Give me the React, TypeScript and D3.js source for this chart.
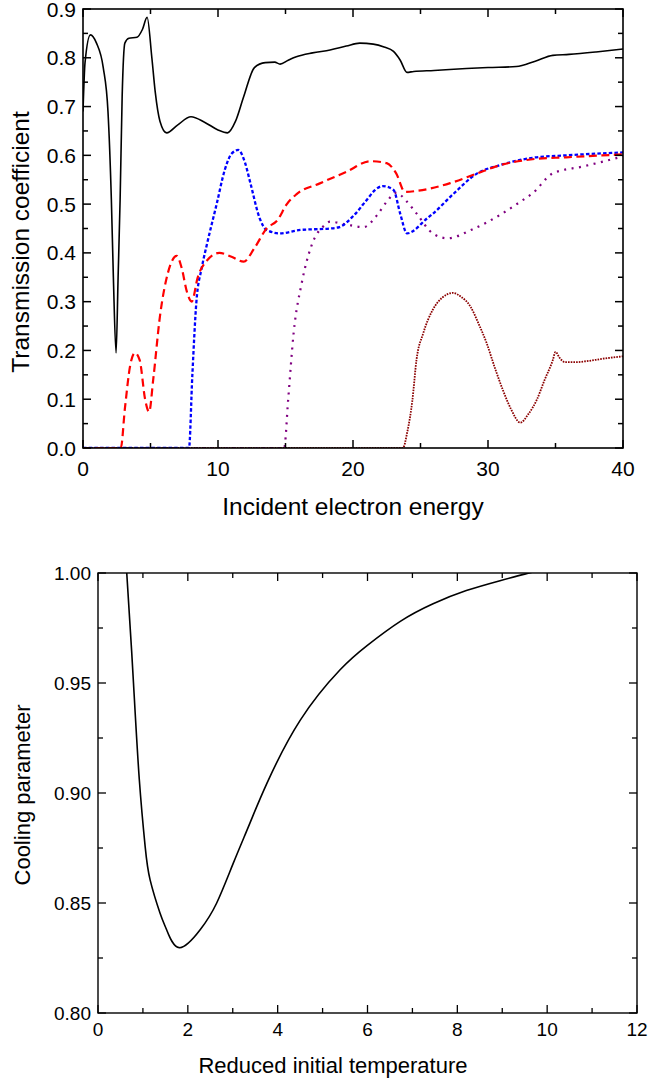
import React from "react";
import * as d3 from "d3";

// ---- top panel: transmission coefficient vs incident electron energy
const solidE = [0, 0.15, 0.55, 1.0, 1.5, 1.85, 2.1, 2.25, 2.45, 2.6, 2.75, 2.9, 3.1, 3.4, 4.0, 4.4, 4.75, 5.1, 5.35, 5.7, 6.2, 7.0, 8.0, 9.0, 10.0, 10.7, 11.3, 11.9, 12.7, 13.5, 14.2, 14.6, 15.2, 15.8, 17.0, 18.3, 19.5, 20.5, 21.5, 22.3, 23.0, 23.5, 24.0, 24.5, 26.0, 28.4, 30.0, 32.1, 33.5, 34.8, 36.0, 38.0, 40];
const solidT = [0.69, 0.79, 0.847, 0.83, 0.78, 0.69, 0.51, 0.35, 0.195, 0.35, 0.51, 0.72, 0.83, 0.84, 0.842, 0.858, 0.883, 0.8, 0.73, 0.67, 0.646, 0.662, 0.679, 0.668, 0.652, 0.646, 0.67, 0.72, 0.78, 0.79, 0.791, 0.787, 0.795, 0.802, 0.81, 0.816, 0.824, 0.83, 0.828, 0.822, 0.813, 0.795, 0.77, 0.772, 0.774, 0.778, 0.78, 0.782, 0.793, 0.805, 0.807, 0.812, 0.818];

const redE = [0, 2.8, 3.1, 3.5, 3.85, 4.2, 4.6, 4.9, 5.2, 5.7, 6.3, 6.95, 7.3, 7.7, 8.05, 8.5, 9.2, 10.1, 11.0, 11.9, 12.7, 13.6, 14.4, 15.1, 15.8, 17.5, 19.5, 21.3, 22.5, 23.2, 23.85, 24.7, 27.2, 29.2, 30.9, 33.3, 35.8, 40];
const redT = [0, 0, 0.08, 0.17, 0.195, 0.18, 0.1, 0.074, 0.14, 0.27, 0.36, 0.394, 0.37, 0.32, 0.3, 0.35, 0.385, 0.4, 0.392, 0.382, 0.41, 0.45, 0.467, 0.5, 0.52, 0.542, 0.566, 0.588, 0.584, 0.563, 0.525, 0.527, 0.543, 0.563, 0.58, 0.592, 0.596, 0.602];

const blueE = [0, 7.85, 8.1, 8.4, 8.8, 9.2, 9.9, 10.5, 11.0, 11.5, 12.0, 12.4, 13.1, 13.6, 14.6, 16.1, 18.3, 19.0, 20.0, 21.0, 21.6, 22.2, 23.0, 23.5, 24.0, 25.5, 25.9, 27.4, 29.2, 30.9, 33.3, 35.8, 40];
const blueT = [0, 0, 0.15, 0.3, 0.37, 0.42, 0.5, 0.57, 0.603, 0.611, 0.585, 0.543, 0.47, 0.447, 0.44, 0.447, 0.45, 0.453, 0.475, 0.508, 0.528, 0.537, 0.529, 0.48, 0.44, 0.471, 0.48, 0.52, 0.563, 0.58, 0.595, 0.6, 0.606];

const purpleE = [0, 14.9, 15.2, 15.6, 16.2, 16.9, 17.9, 18.3, 19.5, 20.8, 21.8, 22.5, 23.2, 24.0, 24.7, 25.9, 27.0, 28.9, 30.9, 32.4, 33.3, 34.8, 37.0, 38.5, 40];
const purpleT = [0, 0, 0.1, 0.235, 0.338, 0.413, 0.457, 0.464, 0.458, 0.453, 0.478, 0.505, 0.523, 0.505, 0.481, 0.44, 0.43, 0.449, 0.478, 0.505, 0.522, 0.563, 0.577, 0.587, 0.598];

const maroonE = [0, 23.7, 24.0, 24.4, 24.7, 25.2, 25.9, 26.6, 27.4, 28.0, 28.7, 29.3, 29.9, 30.5, 31.1, 31.7, 32.4, 33.0, 33.6, 34.2, 34.8, 35.0, 35.3, 35.7, 36.5, 37.3, 38.5, 40];
const maroonT = [0, 0, 0.03, 0.098, 0.18, 0.235, 0.283, 0.308, 0.318, 0.31, 0.29, 0.255, 0.215, 0.165, 0.119, 0.08, 0.052, 0.07, 0.098, 0.14, 0.18, 0.197, 0.185, 0.176, 0.176, 0.178, 0.183, 0.188];

const topXTicks = [0, 10, 20, 30, 40];
const topYTicks = [0.0, 0.1, 0.2, 0.3, 0.4, 0.5, 0.6, 0.7, 0.8, 0.9];

// ---- bottom panel: cooling parameter vs reduced initial temperature
const tempX = [0.55, 0.64, 0.79, 0.92, 1.05, 1.16, 1.38, 1.53, 1.81, 2.27, 2.64, 3.01, 3.38, 3.76, 4.5, 5.39, 5.99, 6.73, 7.46, 8.2, 8.95, 9.5, 10.0];
const coolY = [1.018, 1.0, 0.95, 0.906, 0.8756, 0.8605, 0.8455, 0.8377, 0.8297, 0.8377, 0.8499, 0.868, 0.8862, 0.9044, 0.933, 0.956, 0.967, 0.978, 0.986, 0.992, 0.9965, 0.9995, 1.002];

const botXTicks = [0, 2, 4, 6, 8, 10, 12];
const botYTicks = [0.8, 0.85, 0.9, 0.95, 1.0];

const W = 649;
const H = 1082;
const font = "Liberation Sans, Arial, sans-serif";

const App = () => {
  // top panel scales
  const x1 = d3.scaleLinear().domain([0, 40]).range([83, 623]);
  const y1 = d3.scaleLinear().domain([0, 0.9]).range([448, 9]);
  const line1 = d3.line<[number, number]>()
    .x(d => x1(d[0]))
    .y(d => y1(d[1]))
    .curve(d3.curveMonotoneX);

  const series = [
    { e: maroonE, t: maroonT, color: "#8b0000", dash: "1.6,1.1", w: 1.8 },
    { e: purpleE, t: purpleT, color: "#800080", dash: "2,5.5", w: 2.2 },
    { e: blueE, t: blueT, color: "#0000ff", dash: "3.5,2.2", w: 2.3 },
    { e: redE, t: redT, color: "#ff0000", dash: "8,4.5", w: 2.2 },
    { e: solidE, t: solidT, color: "#000000", dash: "none", w: 1.6 },
  ];

  // bottom panel scales
  const x2 = d3.scaleLinear().domain([0, 12]).range([98, 637]);
  const y2 = d3.scaleLinear().domain([0.8, 1.0]).range([1013, 573]);
  const line2 = d3.line<[number, number]>()
    .x(d => x2(d[0]))
    .y(d => y2(d[1]))
    .curve(d3.curveNatural);

  const topMinorX = d3.range(0, 40.01, 5);
  const topMinorY = d3.range(0, 0.901, 0.05);
  const botMinorX = d3.range(0, 12.01, 1);
  const botMinorY = d3.range(0.8, 1.001, 0.025);

  return (
    <svg width={W} height={H} style={{ position: "absolute", left: 0, top: 0, background: "#fff" }}>
      <defs>
        <clipPath id="clipTop">
          <rect x={83} y={9} width={540} height={439} />
        </clipPath>
        <clipPath id="clipBot">
          <rect x={98} y={573} width={539} height={440} />
        </clipPath>
      </defs>

      {/* ---------- top panel ---------- */}
      <g clipPath="url(#clipTop)">
        {series.map((s, i) => (
          <path key={i}
            d={line1(s.e.map((e, j) => [e, s.t[j]] as [number, number])) || ""}
            fill="none" stroke={s.color} strokeWidth={s.w}
            strokeDasharray={s.dash} />
        ))}
      </g>
      <rect x={83} y={9} width={540} height={439} fill="none" stroke="#000" strokeWidth={1.6} />
      {topMinorX.map((v, i) => {
        const len = v % 10 === 0 ? 8 : 5;
        return (
          <g key={"tx" + i}>
            <line x1={x1(v)} x2={x1(v)} y1={448} y2={448 - len} stroke="#000" strokeWidth={1.5} />
            <line x1={x1(v)} x2={x1(v)} y1={9} y2={9 + len} stroke="#000" strokeWidth={1.5} />
          </g>
        );
      })}
      {topMinorY.map((v, i) => {
        const len = i % 2 === 0 ? 8 : 5;
        return (
          <g key={"ty" + i}>
            <line x1={83} x2={83 + len} y1={y1(v)} y2={y1(v)} stroke="#000" strokeWidth={1.5} />
            <line x1={623} x2={623 - len} y1={y1(v)} y2={y1(v)} stroke="#000" strokeWidth={1.5} />
          </g>
        );
      })}
      {topXTicks.map(v => (
        <text key={"txl" + v} x={x1(v)} y={476} textAnchor="middle" fontFamily={font} fontSize={21}>{v}</text>
      ))}
      {topYTicks.map(v => (
        <text key={"tyl" + v} x={76} y={y1(v)} dy="0.36em" textAnchor="end" fontFamily={font} fontSize={21}>{v.toFixed(1)}</text>
      ))}
      <text x={353} y={515} textAnchor="middle" fontFamily={font} fontSize={24.5}>Incident electron energy</text>
      <text transform="translate(29,242) rotate(-90)" textAnchor="middle" fontFamily={font} fontSize={24.5}>Transmission coefficient</text>

      {/* ---------- bottom panel ---------- */}
      <g clipPath="url(#clipBot)">
        <path d={line2(tempX.map((t, j) => [t, coolY[j]] as [number, number])) || ""}
          fill="none" stroke="#000" strokeWidth={1.6} />
      </g>
      <rect x={98} y={573} width={539} height={440} fill="none" stroke="#000" strokeWidth={1.4} />
      {botMinorX.map((v, i) => {
        const len = i % 2 === 0 ? 8 : 5;
        return (
          <g key={"bx" + i}>
            <line x1={x2(v)} x2={x2(v)} y1={1013} y2={1013 - len} stroke="#000" strokeWidth={1.3} />
            <line x1={x2(v)} x2={x2(v)} y1={573} y2={573 + len} stroke="#000" strokeWidth={1.3} />
          </g>
        );
      })}
      {botMinorY.map((v, i) => {
        const len = i % 2 === 0 ? 8 : 5;
        return (
          <g key={"by" + i}>
            <line x1={98} x2={98 + len} y1={y2(v)} y2={y2(v)} stroke="#000" strokeWidth={1.3} />
            <line x1={637} x2={637 - len} y1={y2(v)} y2={y2(v)} stroke="#000" strokeWidth={1.3} />
          </g>
        );
      })}
      {botXTicks.map(v => (
        <text key={"bxl" + v} x={x2(v)} y={1036} textAnchor="middle" fontFamily={font} fontSize={19}>{v}</text>
      ))}
      {botYTicks.map(v => (
        <text key={"byl" + v} x={91} y={y2(v)} dy="0.36em" textAnchor="end" fontFamily={font} fontSize={19}>{v.toFixed(2)}</text>
      ))}
      <text x={333} y={1073} textAnchor="middle" fontFamily={font} fontSize={22}>Reduced initial temperature</text>
      <text transform="translate(30,795) rotate(-90)" textAnchor="middle" fontFamily={font} fontSize={22}>Cooling parameter</text>
    </svg>
  );
};

export default App;
